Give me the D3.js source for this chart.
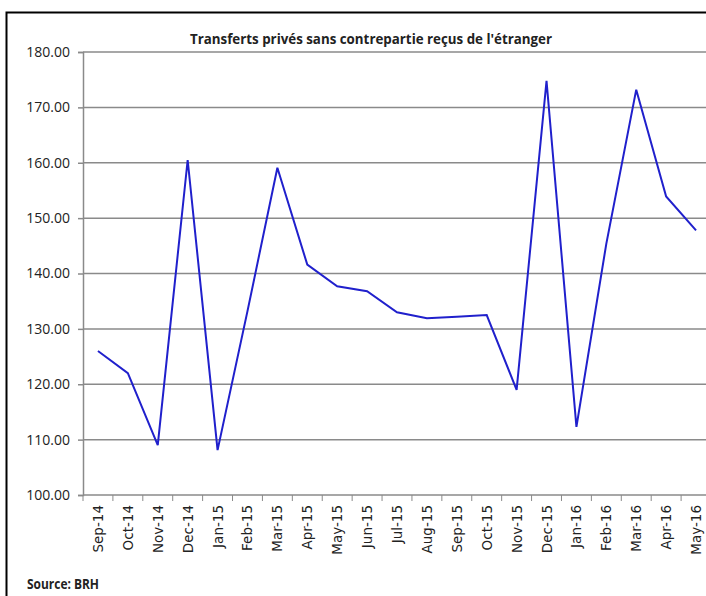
<!DOCTYPE html>
<html>
<head>
<meta charset="utf-8">
<script src="https://cdn.jsdelivr.net/npm/d3@7"></script>
<style>
  body { margin: 0; background: #fff; }
  text { font-family: "Open Sans", "Liberation Sans", sans-serif; fill: #222; }
</style>
</head>
<body>
<div id="chart"></div>
<script>
const months = ["Sep-14", "Oct-14", "Nov-14", "Dec-14", "Jan-15", "Feb-15", "Mar-15", "Apr-15",
    "May-15", "Jun-15", "Jul-15", "Aug-15", "Sep-15", "Oct-15", "Nov-15", "Dec-15",
    "Jan-16", "Feb-16", "Mar-16", "Apr-16", "May-16"];
const transfers = [126.0, 122.0, 109.0, 160.5, 108.1, 133.2, 159.1, 141.6,
    137.7, 136.8, 133.0, 131.9, 132.2, 132.5, 119.0, 174.8,
    112.3, 145.4, 173.2, 153.9, 147.8];
const yTicks = [100, 110, 120, 130, 140, 150, 160, 170, 180];

const W = 706, H = 596;
const margin = { top: 52, right: -5, bottom: 101, left: 83 };
const width = W - margin.left - margin.right;
const height = H - margin.top - margin.bottom;

const svg = d3.select("#chart").append("svg")
    .attr("width", W)
    .attr("height", H);

// frame (cropped on the right and bottom)
svg.append("path")
    .attr("d", "M6.5,700 V12.5 H720")
    .attr("fill", "none")
    .attr("stroke", "#000")
    .attr("stroke-width", 2);

const g = svg.append("g")
    .attr("transform", "translate(" + margin.left + "," + margin.top + ")");

const x = d3.scaleBand()
    .domain(months)
    .range([0, width]);

const y = d3.scaleLinear()
    .domain([100, 180])
    .range([height, 0]);

// gridlines
g.selectAll(".grid")
    .data(yTicks.filter(d => d > 100))
    .enter()
    .append("line")
    .attr("x1", 0)
    .attr("x2", width)
    .attr("y1", d => y(d))
    .attr("y2", d => y(d))
    .attr("stroke", "#8a8a8a")
    .attr("stroke-width", 1.5);

// y axis
const yAxis = g.append("g")
    .call(d3.axisLeft(y).tickValues(yTicks).tickSize(5).tickPadding(8).tickFormat(d3.format(".2f")));
yAxis.select(".domain").attr("stroke", "#8a8a8a").attr("stroke-width", 1.5);
yAxis.selectAll(".tick line").attr("stroke", "#8a8a8a").attr("stroke-width", 1.5);
yAxis.selectAll("text").style("font-size", "14px").attr("fill", "#222");

// x axis: ticks on band boundaries
const xAxis = g.append("g")
    .attr("transform", "translate(0," + height + ")");
xAxis.append("line")
    .attr("x1", 0).attr("x2", width)
    .attr("stroke", "#8a8a8a").attr("stroke-width", 1.5);
xAxis.selectAll(".xtick")
    .data(months)
    .enter()
    .append("line")
    .attr("x1", d => x(d)).attr("x2", d => x(d))
    .attr("y1", 0).attr("y2", 6)
    .attr("stroke", "#8a8a8a").attr("stroke-width", 1);
xAxis.selectAll(".xlabel")
    .data(months)
    .enter()
    .append("text")
    .attr("transform", d => "translate(" + (x(d) + x.bandwidth() / 2 + 5) + ",10) rotate(-90)")
    .attr("text-anchor", "end")
    .style("font-family", "'DejaVu Sans', Verdana, sans-serif")
    .style("font-size", "13.5px")
    .text(d => d);

// line
const line = d3.line()
    .x((d, i) => x(months[i]) + x.bandwidth() / 2)
    .y(d => y(d));

g.append("path")
    .datum(transfers)
    .attr("fill", "none")
    .attr("stroke", "#2020cc")
    .attr("stroke-width", 2)
    .attr("stroke-linejoin", "miter")
    .attr("d", line);

// title
svg.append("text")
    .attr("x", 371)
    .attr("y", 44)
    .attr("text-anchor", "middle")
    .style("font-size", "13.5px")
    .style("font-weight", "bold")
    .attr("textLength", 362)
    .attr("lengthAdjust", "spacingAndGlyphs")
    .text("Transferts privés sans contrepartie reçus de l'étranger");

// source
svg.append("text")
    .attr("x", 27)
    .attr("y", 589)
    .style("font-size", "14px")
    .style("font-weight", "bold")
    .attr("textLength", 72)
    .attr("lengthAdjust", "spacingAndGlyphs")
    .text("Source: BRH");
</script>
</body>
</html>
